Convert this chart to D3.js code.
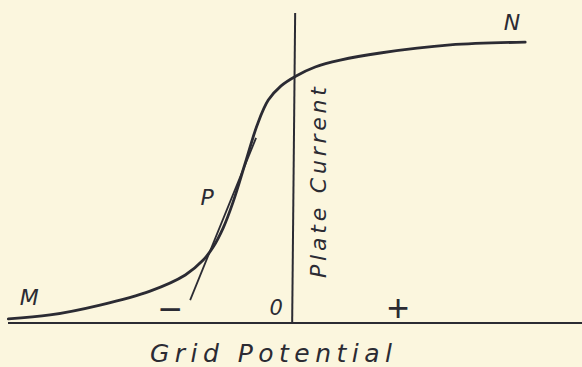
<!DOCTYPE html>
<html>
<head>
<meta charset="utf-8">
<script src="https://cdn.jsdelivr.net/npm/d3@7/dist/d3.min.js"></script>
<style>
  html, body { margin: 0; padding: 0; background: #fbf6de; }
  svg { display: block; }
  text { font-family: "DejaVu Sans", "Liberation Sans", sans-serif; font-style: oblique; fill: #2b2b33; }
</style>
</head>
<body>
<svg id="chart" width="582" height="367"></svg>
<script>
// Triode characteristic: plate current against grid potential
const gridPotential = [-9.99, -8.52, -6.76, -5.0, -3.76, -3.13, -2.78, -2.43, -2.08, -1.65, -1.23, -0.84, -0.39, 0.14, 0.81, 1.69, 3.10, 5.56, 8.2];
const plateCurrent  = [0.13, 0.26, 0.58, 1.03, 1.55, 2.03, 2.45, 3.06, 3.90, 5.16, 6.39, 7.19, 7.65, 7.97, 8.26, 8.48, 8.71, 8.97, 9.06];

// Tangent drawn at the working point P
const tangentPotential = [-3.59, -1.27];
const tangentCurrent   = [0.74, 5.97];

const xLabel = "Grid Potential";
const yLabel = "Plate Current";
const pointLabels = ["M", "N", "P"];
const signLabels = ["\u2212", "0", "+"];

const ink = "#2b2b33";
const svg = d3.select("#chart");

const x = d3.scaleLinear().domain([-10, 10.2]).range([8, 582]);
const y = d3.scaleLinear().domain([0, 10]).range([323, 13]);

// Axes as plain lines crossing at the origin
svg.append("line")
  .attr("x1", x(-10)).attr("x2", x(10.2))
  .attr("y1", y(0)).attr("y2", y(0))
  .attr("stroke", ink).attr("stroke-width", 2.2);

svg.append("line")
  .attr("x1", x(0)).attr("x2", x(0) + 3)
  .attr("y1", y(0)).attr("y2", y(10))
  .attr("stroke", ink).attr("stroke-width", 2);

// Characteristic curve
const curvePts = gridPotential.map((g, i) => [g, plateCurrent[i]]);
const line = d3.line().x(d => x(d[0])).y(d => y(d[1])).curve(d3.curveCatmullRom.alpha(0.5));
svg.append("path")
  .attr("d", line(curvePts))
  .attr("fill", "none")
  .attr("stroke", ink)
  .attr("stroke-width", 2.8)
  .attr("stroke-linecap", "round");

// Tangent at P
const tangentPts = tangentPotential.map((g, i) => [g, tangentCurrent[i]]);
svg.append("path")
  .attr("d", d3.line().x(d => x(d[0])).y(d => y(d[1]))(tangentPts))
  .attr("fill", "none")
  .attr("stroke", ink)
  .attr("stroke-width", 1.8);

// Point labels
const labelPos = [[-9.25, 0.58], [7.74, 9.45], [-2.99, 3.81]];
svg.selectAll("text.pt").data(pointLabels).join("text")
  .attr("class", "pt")
  .attr("x", (d, i) => x(labelPos[i][0]))
  .attr("y", (d, i) => y(labelPos[i][1]))
  .attr("text-anchor", "middle")
  .attr("font-size", 22)
  .text(d => d);

// Sign labels along the grid-potential axis
const signPos = [[-4.29, 0.0], [-0.56, 0.26], [3.73, 0.06]];
const signSize = [40, 21, 38];
svg.selectAll("text.sign").data(signLabels).join("text")
  .attr("class", "sign")
  .attr("x", (d, i) => x(signPos[i][0]))
  .attr("y", (d, i) => y(signPos[i][1]))
  .attr("text-anchor", "middle")
  .attr("font-size", (d, i) => signSize[i])
  .style("font-family", (d, i) => i === 1 ? null : "'Liberation Sans', sans-serif")
  .style("font-style", (d, i) => i === 1 ? "oblique" : "normal")
  .text(d => d);

// Axis titles
svg.append("text")
  .attr("x", 150).attr("y", 362)
  .attr("font-size", 25)
  .attr("textLength", 242)
  .attr("lengthAdjust", "spacing")
  .text(xLabel);

svg.append("text")
  .attr("transform", "translate(326,278) rotate(-90)")
  .attr("font-size", 22)
  .attr("textLength", 191)
  .attr("lengthAdjust", "spacing")
  .text(yLabel);
</script>
</body>
</html>
